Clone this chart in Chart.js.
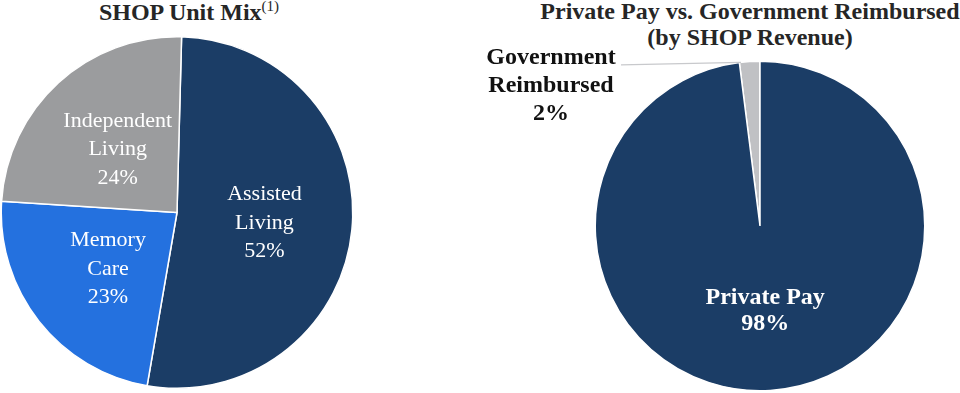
<!DOCTYPE html>
<html>
<head>
<meta charset="utf-8">
<script src="https://cdn.jsdelivr.net/npm/chart.js@4.4.1/dist/chart.umd.min.js"></script>
<style>
  html, body { margin: 0; padding: 0; background: #fff; }
  body { width: 960px; height: 393px; position: relative; overflow: hidden; font-family: "Liberation Serif", "Times New Roman", serif; }
  .box { position: absolute; }
  .title { position: absolute; font-weight: bold; font-size: 24px; color: #262626; text-align: center; line-height: 26px; white-space: nowrap; }
  .title sup { font-weight: normal; font-size: 15px; vertical-align: 0; position: relative; top: -9px; }
  .pre { position: absolute; left: -1000px; top: 0; }
</style>
</head>
<body>
<div class="pre"><span style="font-size:22px;">Aa</span><b style="font-size:24px;">Aa</b></div>
<div class="title" id="t1" style="left:54px; top:-1px; width:270px;">SHOP Unit Mix<sup>(1)</sup></div>
<div class="title" id="t2" style="left:520px; top:-2px; width:460px;">Private Pay vs. Government Reimbursed<br>(by SHOP Revenue)</div>
<div class="box" style="left:0; top:0; width:470px; height:393px;"><canvas id="c1"></canvas></div>
<div class="box" style="left:470px; top:0; width:490px; height:393px;"><canvas id="c2"></canvas></div>
<script>
// ---- Data ----
const mixLabels = ["Assisted Living", "Memory Care", "Independent Living"];
const mixValues = [52.3, 23.3, 24.4];
const mixDisplay = ["52%", "23%", "24%"];
const mixColors = ["#1b3d66", "#2471df", "#9b9c9e"];

const payLabels = ["Government Reimbursed", "Private Pay"];
const payValues = [2, 98];
const payDisplay = ["2%", "98%"];
const payColors = ["#c0c1c4", "#1b3d66"];

const FONT = '"Liberation Serif", serif';

function drawLines(ctx, lines, x, y, lh) {
  const start = y - (lines.length - 1) * lh / 2;
  lines.forEach((l, i) => ctx.fillText(l, x, start + i * lh));
}

const insideLabels = {
  id: 'insideLabels',
  afterDatasetsDraw(chart, args, opts) {
    const ctx = chart.ctx;
    const meta = chart.getDatasetMeta(0);
    ctx.save();
    ctx.fillStyle = '#ffffff';
    ctx.textAlign = 'center';
    ctx.textBaseline = 'middle';
    ctx.font = opts.font;
    meta.data.forEach((arc, i) => {
      if (opts.skip && opts.skip.includes(i)) return;
      const p = arc.tooltipPosition();
      const lines = opts.lines[i];
      drawLines(ctx, lines, p.x + (opts.dx || 0), p.y + (opts.dy || 0), opts.lh);
    });
    if (opts.outside != null) {
      const arc = meta.data[opts.outside];
      const a = arc.startAngle + 0.01;
      const r = arc.outerRadius;
      const sx = arc.x + Math.cos(a) * r, sy = arc.y + Math.sin(a) * r;
      const ex = sx - 120, ey = sy + 2.5;
      ctx.strokeStyle = '#c8c9cc';
      ctx.lineWidth = 1.2;
      ctx.beginPath();
      ctx.moveTo(sx, sy);
      ctx.lineTo(ex, ey);
      ctx.stroke();
      ctx.fillStyle = '#111111';
      ctx.font = opts.outFont;
      drawLines(ctx, opts.outLines, ex - 70, ey + 21, opts.outLh);
    }
    ctx.restore();
  }
};

function build() {
  new Chart(document.getElementById('c1'), {
    type: 'pie',
    data: {
      labels: mixLabels,
      datasets: [{ data: mixValues, backgroundColor: mixColors, borderColor: '#ffffff', borderWidth: 1.5, hoverOffset: 0 }]
    },
    options: {
      responsive: true, maintainAspectRatio: false, animation: false,
      rotation: 1.5,
      layout: { padding: { left: 0, top: 36, right: 116, bottom: 4 } },
      plugins: {
        legend: { display: false }, tooltip: { enabled: false },
        insideLabels: {
          font: '22px ' + FONT, lh: 28.5, dx: 0, dy: 2,
          lines: [["Assisted", "Living", mixDisplay[0]], ["Memory", "Care", mixDisplay[1]], ["Independent", "Living", mixDisplay[2]]]
        }
      }
    },
    plugins: [insideLabels]
  });

  new Chart(document.getElementById('c2'), {
    type: 'pie',
    data: {
      labels: payLabels,
      datasets: [{ data: payValues, backgroundColor: payColors, borderColor: '#ffffff', borderWidth: 1.5, hoverOffset: 0 }]
    },
    options: {
      responsive: true, maintainAspectRatio: false, animation: false,
      rotation: -7.2,
      layout: { padding: { left: 124.5, top: 60.5, right: 34.5, bottom: 1.5 } },
      plugins: {
        legend: { display: false }, tooltip: { enabled: false },
        insideLabels: {
          font: 'bold 24px ' + FONT, outFont: 'bold 24px ' + FONT, lh: 26, outLh: 28,
          skip: [0], dx: 0, dy: 3,
          lines: [[], ["Private Pay", payDisplay[1]]],
          outside: 0,
          outLines: ["Government", "Reimbursed", payDisplay[0]]
        }
      }
    },
    plugins: [insideLabels]
  });
}

Promise.all([
  document.fonts.load('22px "Liberation Serif"'),
  document.fonts.load('bold 24px "Liberation Serif"')
]).then(build, build);
</script>
</body>
</html>
